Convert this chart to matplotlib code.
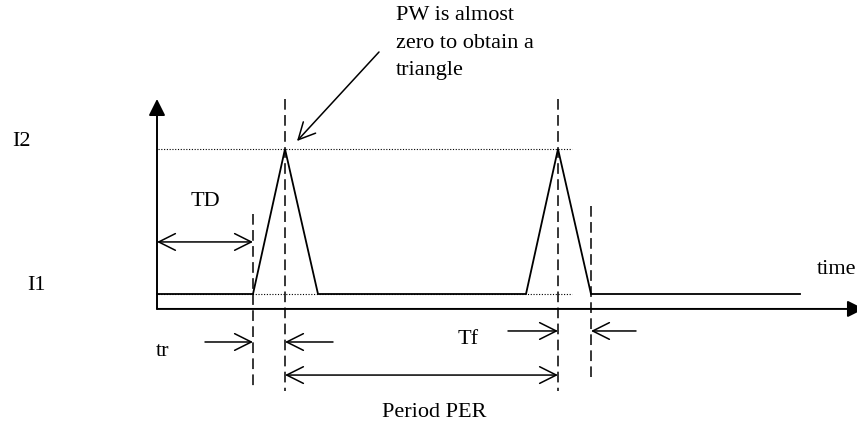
import matplotlib
matplotlib.use('Agg')
import matplotlib.pyplot as plt

plt.rcParams['font.family'] = ['Liberation Serif', 'DejaVu Serif']

# pulse parameters (time in diagram units, levels normalised)
TD = 96
TR = 32
TF = 33
PER = 273
T_END = 643
I1 = 0.0
I2 = 1.0

t_pts = [0, TD, TD + TR, TD + TR + TF,
         TD + PER, TD + TR + PER, TD + TR + TF + PER, T_END]
i_pts = [I1, I1, I2, I1, I1, I2, I1, I1]

fig = plt.figure(figsize=(8.57, 4.27), dpi=100)
ax = fig.add_axes([0, 0, 1, 1])
ax.set_xlim(-157, 700)
ax.set_ylim((295 - 427) / 145, 295 / 145)
ax.axis('off')

# waveform
ax.plot(t_pts, i_pts, color='black', lw=1.3, solid_joinstyle='miter')

# dotted reference levels
ax.plot([1, 415], [I2, I2], color='black', lw=0.8, ls=(0, (1, 1.5)))
ax.plot([1, 415], [I1, I1], color='black', lw=0.8, ls=(0, (1, 1.5)))

# axes with arrows
ax_y = -0.103
ax.annotate('', xy=(0, 1.345), xytext=(0, ax_y), annotation_clip=False,
            arrowprops=dict(arrowstyle='-|>', color='black', lw=1.4,
                            mutation_scale=25, shrinkA=0, shrinkB=0))
ax.annotate('', xy=(707, ax_y), xytext=(0, ax_y), annotation_clip=False,
            arrowprops=dict(arrowstyle='-|>', color='black', lw=1.4,
                            mutation_scale=25, shrinkA=0, shrinkB=0))

# dashed markers
dash = (0, (7, 3.5))
ax.plot([TD, TD], [0.552, -0.634], color='black', lw=1.1, ls=dash)
ax.plot([TD + TR] * 2, [1.345, -0.669], color='black', lw=1.1, ls=dash)
ax.plot([TD + TR + PER] * 2, [1.345, -0.669], color='black', lw=1.1, ls=dash)
ax.plot([TD + TR + TF + PER] * 2, [0.607, -0.572], color='black', lw=1.1, ls=dash)

open_arrow = dict(arrowstyle='->', color='black', lw=1.1,
                  mutation_scale=30, shrinkA=0, shrinkB=0)
both_arrow = dict(arrowstyle='<->', color='black', lw=1.1,
                  mutation_scale=30, shrinkA=0, shrinkB=0)

# TD
ax.annotate('', xy=(TD, 0.359), xytext=(0, 0.359), arrowprops=both_arrow)
# tr
ax.annotate('', xy=(TD, -0.331), xytext=(48, -0.331), arrowprops=open_arrow)
ax.annotate('', xy=(TD + TR, -0.331), xytext=(176, -0.331), arrowprops=open_arrow)
# Tf
ax.annotate('', xy=(TD + TR + PER, -0.255), xytext=(351, -0.255), arrowprops=open_arrow)
ax.annotate('', xy=(TD + TR + TF + PER, -0.255), xytext=(479, -0.255), arrowprops=open_arrow)
# period
ax.annotate('', xy=(TD + TR + PER, -0.559), xytext=(TD + TR, -0.559), arrowprops=both_arrow)
# PW pointer
ax.annotate('', xy=(140, 1.055), xytext=(222, 1.669), arrowprops=open_arrow)

fs = 16
W, H = 857, 427


def label(px, py, s, ha='left'):
    fig.text(px / W, 1 - py / H, s, fontsize=fs, ha=ha, va='center')


label(396, 16, 'PW is almost')
label(396, 43, 'zero to obtain a')
label(396, 70, 'triangle')
label(12, 142, 'I2')
label(27, 286, 'I1')
label(191, 202, 'TD')
label(817, 269, 'time')
label(156, 352, 'tr')
label(458, 340, 'Tf')
label(434, 413, 'Period PER', ha='center')

fig.savefig('out.png', dpi=100)
